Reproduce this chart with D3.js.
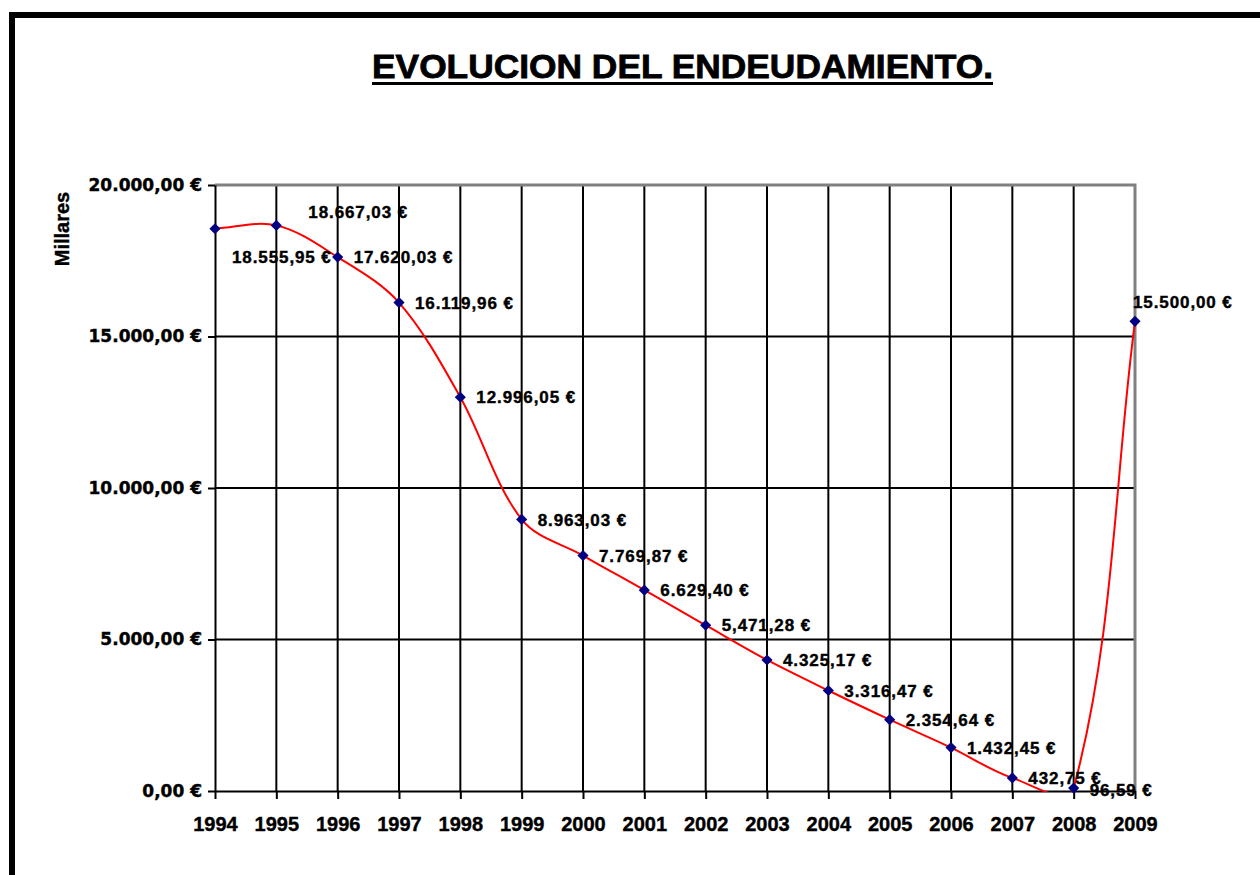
<!DOCTYPE html>
<html>
<head>
<meta charset="utf-8">
<script src="https://cdn.jsdelivr.net/npm/d3@7"></script>
<style>
  body { margin: 0; background: #fff; }
  svg { display: block; }
</style>
</head>
<body>
<div id="chart"></div>
<script>
// data
const years = ["1994", "1995", "1996", "1997", "1998", "1999", "2000", "2001",
    "2002", "2003", "2004", "2005", "2006", "2007", "2008", "2009"];
const deuda = [18555.95, 18667.03, 17620.03, 16119.96, 12996.05, 8963.03, 7769.87, 6629.40,
    5471.28, 4325.17, 3316.47, 2354.64, 1432.45, 432.75, 96.59, 15500.00];
const etiquetas = ["18.555,95 €", "18.667,03 €", "17.620,03 €", "16.119,96 €", "12.996,05 €",
    "8.963,03 €", "7.769,87 €", "6.629,40 €", "5,471,28 €", "4.325,17 €", "3.316,47 €",
    "2.354,64 €", "1.432,45 €", "432,75 €", "96,59 €", "15.500,00 €"];
const yTicks = [0, 5000, 10000, 15000, 20000];

// where each label sits relative to its point (layout only)
const labelShift = [[17, 28], [32, -14], [16, 0], [16, 0], [16, 0], [16, 0], [16, 0], [16, 0],
    [16, 0], [16, 0], [16, 0], [16, 0], [16, 0], [16, 0], [16, 2], [-2, -19]];

let w = 1260;
let h = 875;
let plotL = 215, plotR = 1135, plotT = 185, plotB = 791;

const es = d3.formatLocale({ decimal: ",", thousands: ".", grouping: [3], currency: ["", " €"] });
const fmt = es.format("$,.2f");

let svg = d3.select("#chart")
    .append("svg")
    .attr("width", w)
    .attr("height", h);

// black frame round the chart
svg.append("rect")
    .attr("x", 12).attr("y", 15)
    .attr("width", 1300).attr("height", 900)
    .attr("fill", "none")
    .attr("stroke", "#000")
    .attr("stroke-width", 6);

// title with underline
svg.append("text")
    .attr("x", 372)
    .attr("y", 78)
    .attr("textLength", 621)
    .attr("lengthAdjust", "spacingAndGlyphs")
    .style("font-family", "'Liberation Sans', Arial, sans-serif")
    .style("font-weight", "bold")
    .style("font-size", "33px")
    .attr("stroke", "#000")
    .attr("stroke-width", 0.8)
    .text("EVOLUCION DEL ENDEUDAMIENTO.");
svg.append("line")
    .attr("x1", 372).attr("x2", 993)
    .attr("y1", 83.5).attr("y2", 83.5)
    .attr("stroke", "#000")
    .attr("stroke-width", 3);

let xScale = d3.scalePoint()
    .domain(years)
    .range([plotL, plotR]);
let yScale = d3.scaleLinear()
    .domain([0, 20000])
    .range([plotB, plotT]);

// horizontal grid
svg.append("g")
    .selectAll("line")
    .data(yTicks.filter(function (d) { return d > 0 && d < 20000; }))
    .enter().append("line")
    .attr("x1", plotL).attr("x2", plotR)
    .attr("y1", function (d) { return yScale(d); })
    .attr("y2", function (d) { return yScale(d); })
    .attr("stroke", "#000")
    .attr("stroke-width", 2);

// vertical grid
svg.append("g")
    .selectAll("line")
    .data(years.slice(1, years.length - 1))
    .enter().append("line")
    .attr("x1", function (d) { return xScale(d); })
    .attr("x2", function (d) { return xScale(d); })
    .attr("y1", plotT).attr("y2", plotB)
    .attr("stroke", "#000")
    .attr("stroke-width", 2);

// grey plot border top and right
svg.append("path")
    .attr("d", "M" + plotL + "," + plotT + "H" + plotR + "V" + plotB)
    .attr("fill", "none")
    .attr("stroke", "#808080")
    .attr("stroke-width", 3);

// y axis
let yAxis = d3.axisLeft(yScale)
    .tickValues(yTicks)
    .tickSize(7)
    .tickSizeOuter(0)
    .tickPadding(6)
    .tickFormat(fmt);
let yAxisGroup = svg.append("g")
    .attr("transform", "translate(" + plotL + ",0)")
    .call(yAxis);
yAxisGroup.selectAll("path, line")
    .attr("stroke", "#000")
    .attr("stroke-width", 2);
yAxisGroup.selectAll("text")
    .attr("fill", "#000")
    .attr("stroke", "#000")
    .attr("stroke-width", 0.4)
    .style("font-family", "'DejaVu Sans', sans-serif")
    .style("font-weight", "bold")
    .style("font-size", "17px");

// x axis
let xAxis = d3.axisBottom(xScale)
    .tickSize(8)
    .tickSizeOuter(0)
    .tickPadding(18);
let xAxisGroup = svg.append("g")
    .attr("transform", "translate(0," + plotB + ")")
    .call(xAxis);
xAxisGroup.selectAll("path, line")
    .attr("stroke", "#000")
    .attr("stroke-width", 2);
xAxisGroup.selectAll("text")
    .attr("fill", "#000")
    .attr("stroke", "#000")
    .attr("stroke-width", 0.4)
    .style("font-family", "'Liberation Sans', Arial, sans-serif")
    .style("font-weight", "bold")
    .style("font-size", "20px");

// axis title
svg.append("text")
    .attr("transform", "translate(69,229) rotate(-90)")
    .attr("text-anchor", "middle")
    .attr("stroke", "#000")
    .attr("stroke-width", 0.4)
    .style("font-family", "'Liberation Sans', Arial, sans-serif")
    .style("font-weight", "bold")
    .style("font-size", "20px")
    .text("Millares");

// smoothed red line, clipped a little below the plot like the original
svg.append("clipPath")
    .attr("id", "plotClip")
    .append("rect")
    .attr("x", plotL).attr("y", plotT - 5)
    .attr("width", plotR - plotL + 5)
    .attr("height", plotB - plotT + 6);

let points = years.map(function (y, i) { return { year: y, value: deuda[i], label: etiquetas[i], shift: labelShift[i] }; });

// excel-like smoothing: tangent along neighbour chord, handle = segment length / 3
function smoothPath(pts) {
    let p = d3.path();
    let n = pts.length;
    p.moveTo(pts[0][0], pts[0][1]);
    for (let i = 0; i < n - 1; i++) {
        let p0 = pts[Math.max(i - 1, 0)], p1 = pts[i], p2 = pts[i + 1], p3 = pts[Math.min(i + 2, n - 1)];
        let seg = Math.hypot(p2[0] - p1[0], p2[1] - p1[1]);
        let t1 = [p2[0] - p0[0], p2[1] - p0[1]];
        let t2 = [p3[0] - p1[0], p3[1] - p1[1]];
        let l1 = Math.hypot(t1[0], t1[1]), l2 = Math.hypot(t2[0], t2[1]);
        let c1 = [p1[0] + t1[0] / l1 * seg / 3, p1[1] + t1[1] / l1 * seg / 3];
        let c2 = [p2[0] - t2[0] / l2 * seg / 3, p2[1] - t2[1] / l2 * seg / 3];
        p.bezierCurveTo(c1[0], c1[1], c2[0], c2[1], p2[0], p2[1]);
    }
    return p.toString();
}

svg.append("path")
    .attr("clip-path", "url(#plotClip)")
    .attr("d", smoothPath(points.map(function (d) { return [xScale(d.year), yScale(d.value)]; })))
    .attr("fill", "none")
    .attr("stroke", "#ff0000")
    .attr("stroke-width", 2);

// diamond markers
svg.append("g")
    .selectAll("path")
    .data(points)
    .enter().append("path")
    .attr("d", d3.symbol().type(d3.symbolSquare).size(62))
    .attr("transform", function (d) { return "translate(" + xScale(d.year) + "," + yScale(d.value) + ") rotate(45)"; })
    .attr("fill", "#000080");

// value labels
svg.append("g")
    .selectAll("text")
    .data(points)
    .enter().append("text")
    .attr("x", function (d) { return xScale(d.year) + d.shift[0]; })
    .attr("y", function (d) { return yScale(d.value) + d.shift[1]; })
    .attr("dy", "0.36em")
    .attr("stroke", "#000")
    .attr("stroke-width", 0.4)
    .style("font-family", "'Liberation Sans', Arial, sans-serif")
    .style("font-weight", "bold")
    .style("font-size", "17px")
    .style("letter-spacing", "0.9px")
    .attr("fill", "#000")
    .text(function (d) { return d.label; });
</script>
</body>
</html>
